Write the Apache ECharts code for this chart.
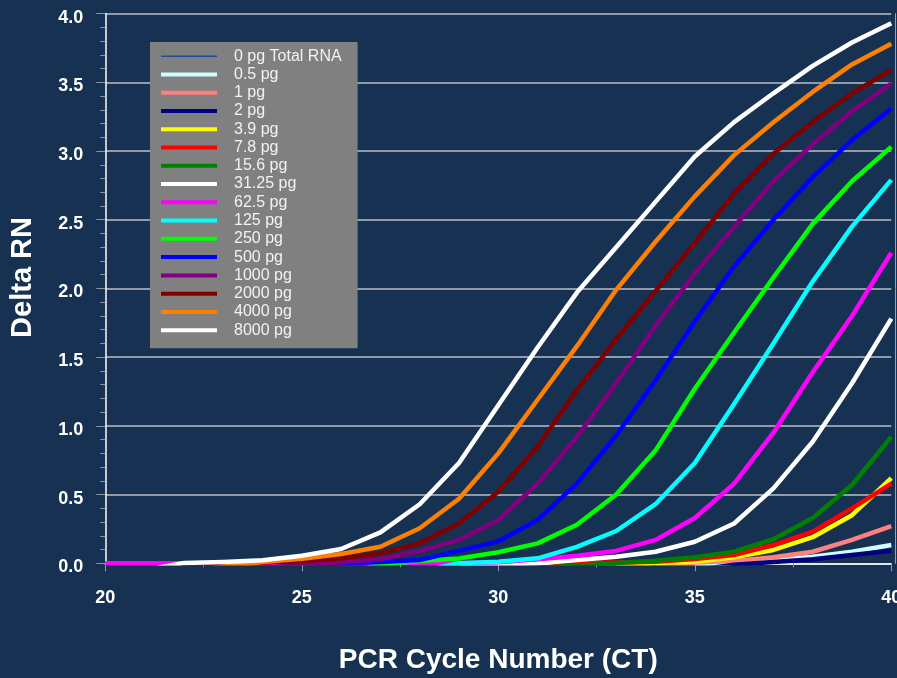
<!DOCTYPE html>
<html>
<head>
<meta charset="utf-8">
<script src="https://cdn.jsdelivr.net/npm/echarts@6/dist/echarts.min.js"></script>
<style>
  html, body { margin: 0; padding: 0; background: #173152; }
  #chart { width: 897px; height: 678px; }
</style>
</head>
<body>
<div id="chart"></div>
<script>
// PCR cycle numbers shown on the x axis
const cycles = [20, 21, 22, 23, 24, 25, 26, 27, 28, 29, 30, 31, 32, 33, 34, 35, 36, 37, 38, 39, 40];

// Template amounts (legend order)
const templateNames = [
  '0 pg Total RNA', '0.5 pg', '1 pg', '2 pg', '3.9 pg', '7.8 pg', '15.6 pg', '31.25 pg',
  '62.5 pg', '125 pg', '250 pg', '500 pg', '1000 pg', '2000 pg', '4000 pg', '8000 pg'
];

// Delta Rn per cycle (cycles 20..40); values below zero fall outside the plot
const rn0    = [-0.06, -0.07, -0.06, -0.08, -0.07, -0.06, -0.07, -0.08, -0.07, -0.06, -0.07, -0.08, -0.07, -0.06, -0.07, -0.08, -0.07, -0.06, -0.07, -0.08, -0.07];
const rn05   = [-0.06, -0.06, -0.07, -0.06, -0.06, -0.07, -0.06, -0.06, -0.07, -0.06, -0.06, -0.07, -0.06, -0.06, -0.05, -0.03, 0.005, 0.024, 0.048, 0.084, 0.133];
const rn1    = [-0.07, -0.06, -0.06, -0.07, -0.06, -0.06, -0.07, -0.06, -0.06, -0.07, -0.06, -0.06, -0.05, -0.05, -0.03, 0.005, 0.017, 0.044, 0.084, 0.17, 0.27];
const rn2    = [-0.08, -0.08, -0.07, -0.08, -0.08, -0.07, -0.08, -0.08, -0.07, -0.08, -0.08, -0.07, -0.07, -0.06, -0.06, -0.05, -0.01, 0.01, 0.029, 0.06, 0.092];
const rn39   = [-0.07, -0.07, -0.06, -0.07, -0.07, -0.06, -0.07, -0.07, -0.06, -0.07, -0.06, -0.05, -0.04, -0.03, 0.003, 0.012, 0.044, 0.097, 0.19, 0.35, 0.62];
const rn78   = [-0.06, -0.07, -0.07, -0.06, -0.07, -0.07, -0.06, -0.07, -0.06, -0.06, -0.05, -0.04, 0.003, 0.006, 0.012, 0.031, 0.06, 0.133, 0.23, 0.40, 0.58];
const rn156  = [-0.07, -0.06, -0.07, -0.07, -0.06, -0.07, -0.07, -0.06, -0.06, -0.05, -0.04, -0.03, -0.02, 0.002, 0.019, 0.044, 0.084, 0.175, 0.33, 0.57, 0.92];
const rn3125 = [-0.06, -0.06, -0.05, -0.06, -0.06, -0.05, -0.05, -0.04, -0.04, -0.03, -0.01, 0.0, 0.024, 0.048, 0.084, 0.157, 0.29, 0.545, 0.885, 1.31, 1.78];
const rn625  = [0.0, 0.0, 0.0, 0.0, 0.0, 0.0, 0.0, 0.0, 0.0, 0.002, 0.007, 0.03, 0.055, 0.09, 0.17, 0.33, 0.58, 0.95, 1.39, 1.80, 2.26];
const rn125  = [-0.10, -0.10, -0.09, -0.09, -0.09, -0.08, -0.08, -0.07, -0.06, 0.0, 0.012, 0.036, 0.12, 0.235, 0.43, 0.73, 1.16, 1.60, 2.05, 2.45, 2.79];
const rn250  = [-0.11, -0.11, -0.10, -0.10, -0.09, -0.09, -0.08, -0.01, 0.017, 0.035, 0.08, 0.145, 0.28, 0.50, 0.82, 1.27, 1.68, 2.08, 2.47, 2.78, 3.03];
const rn500  = [-0.11, -0.10, -0.10, -0.09, -0.08, -0.05, 0.0, 0.01, 0.024, 0.09, 0.16, 0.315, 0.58, 0.93, 1.33, 1.76, 2.16, 2.50, 2.81, 3.08, 3.31];
const rn1000 = [-0.10, -0.10, -0.09, -0.07, -0.04, -0.005, 0.005, 0.031, 0.09, 0.17, 0.315, 0.58, 0.92, 1.31, 1.73, 2.11, 2.45, 2.78, 3.05, 3.29, 3.49];
const rn2000 = [-0.11, -0.08, -0.03, 0.0, 0.005, 0.017, 0.036, 0.072, 0.145, 0.29, 0.52, 0.85, 1.26, 1.63, 1.98, 2.33, 2.69, 2.98, 3.21, 3.42, 3.59];
const rn4000 = [-0.12, -0.10, -0.06, -0.025, 0.01, 0.033, 0.068, 0.12, 0.255, 0.47, 0.80, 1.19, 1.58, 1.99, 2.34, 2.67, 2.97, 3.21, 3.43, 3.63, 3.78];
const rn8000 = [-0.10, -0.05, 0.003, 0.01, 0.022, 0.055, 0.104, 0.225, 0.43, 0.73, 1.15, 1.57, 1.97, 2.30, 2.63, 2.96, 3.21, 3.42, 3.62, 3.79, 3.93];

const rnSeries = [rn0, rn05, rn1, rn2, rn39, rn78, rn156, rn3125, rn625, rn125, rn250, rn500, rn1000, rn2000, rn4000, rn8000];

// Y axis tick values
const yTicks = [0, 0.5, 1.0, 1.5, 2.0, 2.5, 3.0, 3.5, 4.0];
// X axis tick values
const xTicks = [20, 25, 30, 35, 40];

const lineColors = [
  '#1f4f98', '#ccffff', '#ff8080', '#000080', '#ffff00', '#ff0000', '#008000', '#ffffff',
  '#ff00ff', '#00ffff', '#00ff00', '#0000ff', '#800080', '#800000', '#ff8000', '#ffffff'
];

const FONT = 'Liberation Sans, Arial, sans-serif';
const tickGray = '#8d97a6';

const chart = echarts.init(document.getElementById('chart'), null, { renderer: 'canvas' });

const series = templateNames.map((name, i) => ({
  name: name,
  type: 'line',
  data: cycles.map((c, k) => [c, rnSeries[i][k]]),
  symbol: 'none',
  showSymbol: false,
  clip: true,
  silent: true,
  color: lineColors[i],
  lineStyle: { color: lineColors[i], width: i === 0 ? 1.5 : 4.5, join: 'round' },
  itemStyle: { color: lineColors[i] }
}));

const legendData = templateNames.map((name, i) => (
  i === 0 ? { name: name, icon: 'path://M0,0H56V1.5H0Z' } : { name: name, icon: 'rect' }
));

chart.setOption({
  backgroundColor: '#173152',
  animation: false,
  grid: {
    left: 105.3, top: 13.6, width: 786, height: 549.7,
    containLabel: false, outerBoundsMode: 'none'
  },
  legend: {
    orient: 'vertical',
    left: 150,
    top: 42,
    padding: [5, 16, 9, 11],
    itemGap: 0,
    itemWidth: 56,
    itemHeight: 4,
    backgroundColor: '#808080',
    selectedMode: false,
    data: legendData,
    textStyle: {
      color: '#f2f2f2',
      fontSize: 16,
      fontFamily: FONT,
      lineHeight: 18.27,
      padding: [0, 0, 0, 12]
    }
  },
  xAxis: [
    {
      type: 'value',
      min: xTicks[0],
      max: xTicks[xTicks.length - 1],
      interval: xTicks[1] - xTicks[0],
      name: 'PCR Cycle Number (CT)',
      nameLocation: 'middle',
      nameGap: 83,
      nameTextStyle: { color: '#ffffff', fontSize: 28, fontWeight: 'bold', fontFamily: FONT },
      axisLine: { show: true, onZero: false, lineStyle: { color: tickGray, width: 1.5 } },
      axisTick: { show: true, length: 8, lineStyle: { color: tickGray, width: 1 } },
      minorTick: { show: true, splitNumber: 2, length: 4, lineStyle: { color: tickGray, width: 1 } },
      splitLine: { show: false },
      axisLabel: {
        color: '#ffffff', fontSize: 18, fontWeight: 'bold', fontFamily: FONT, margin: 26,
        formatter: v => String(v)
      }
    },
    {
      // plot-area top border
      type: 'value',
      position: 'top',
      offset: 2.5,
      min: xTicks[0],
      max: xTicks[xTicks.length - 1],
      interval: xTicks[1] - xTicks[0],
      axisLine: { show: true, lineStyle: { color: '#ffffff', width: 1.5 } },
      axisTick: { show: false },
      axisLabel: { show: false },
      splitLine: { show: false }
    }
  ],
  yAxis: [
    {
      type: 'value',
      min: yTicks[0],
      max: yTicks[yTicks.length - 1],
      interval: yTicks[1] - yTicks[0],
      name: '{t|Delta RN}',
      nameLocation: 'middle',
      nameGap: 68,
      nameRotate: 90,
      nameTextStyle: {
        color: '#ffffff', fontSize: 29, fontWeight: 'bold', fontFamily: FONT,
        rich: {
          t: { color: '#ffffff', fontSize: 29, fontWeight: 'bold', fontFamily: FONT, padding: [0, 0, 0, 22] }
        }
      },
      axisLine: { show: true, lineStyle: { color: '#ffffff', width: 1.5 } },
      axisTick: { show: true, length: 9, lineStyle: { color: tickGray, width: 1 } },
      minorTick: { show: true, splitNumber: 5, length: 5, lineStyle: { color: tickGray, width: 1 } },
      splitLine: { show: true, lineStyle: { color: '#bcc0c7', width: 1.5 } },
      axisLabel: {
        color: '#ffffff', fontSize: 18, fontWeight: 'bold', fontFamily: FONT, margin: 22,
        verticalAlign: 'top', lineHeight: 8,
        formatter: v => v.toFixed(1)
      }
    },
    {
      // plot-area right border
      type: 'value',
      position: 'right',
      offset: 4.4,
      min: yTicks[0],
      max: yTicks[yTicks.length - 1],
      interval: yTicks[1] - yTicks[0],
      axisLine: { show: true, lineStyle: { color: '#9aa2ae', width: 1 } },
      axisTick: { show: false },
      axisLabel: { show: false },
      splitLine: { show: false }
    }
  ],
  series: series
});
</script>
</body>
</html>
